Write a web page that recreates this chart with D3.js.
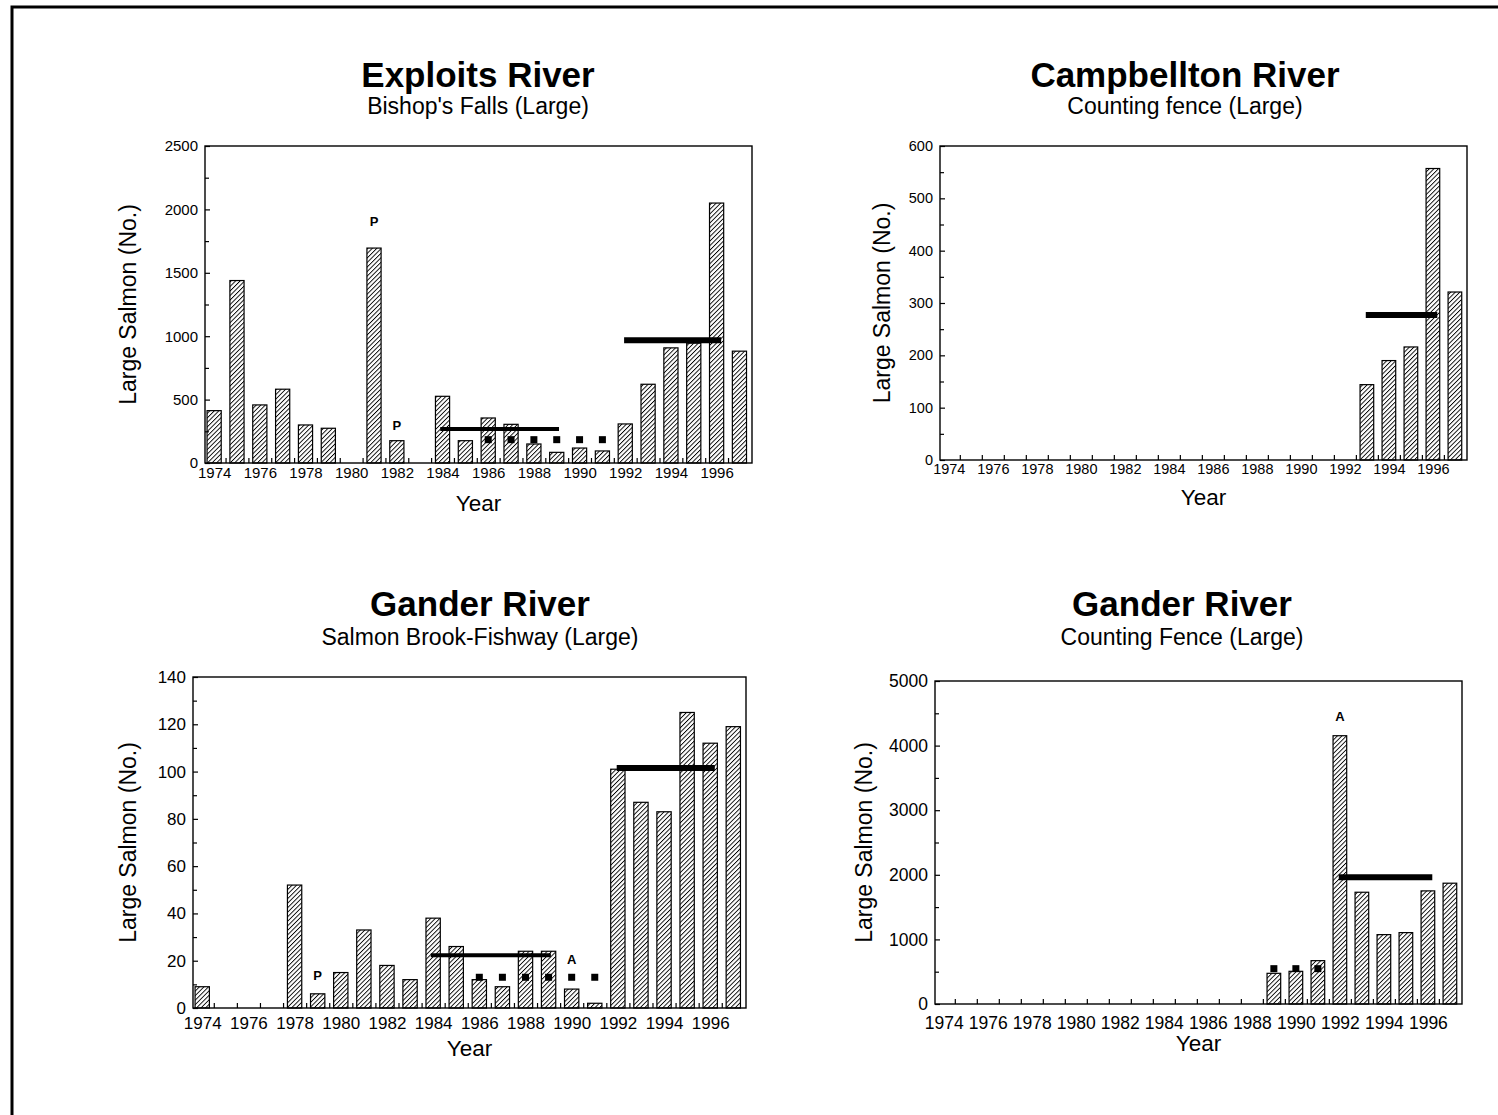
<!doctype html>
<html>
<head>
<meta charset="utf-8">
<title>Large Salmon Counts</title>
<script src="https://cdnjs.cloudflare.com/ajax/libs/d3/7.8.5/d3.min.js"></script>
<style>
  body { margin: 0; background: #fff; }
  svg { display: block; font-family: "Liberation Sans", Arial, Helvetica, sans-serif; }
</style>
</head>
<body>
<div id="chart"></div>
<script>
// years on every x axis
const years = d3.range(1974, 1998);
const yearLabels = d3.range(1974, 1997, 2);

// Exploits River - Bishop's Falls (Large)
const exploitsCounts = [413, 1439, 458, 582, 300, 274, null, 1695, 176, null, 526, 176,
  355, 305, 150, 84, 118, 95, 308, 621, 908, 945, 2050, 882];
const exploitsSolid = [[1984, 1989, 268]];
const exploitsThick = [[1992, 1996, 968]];
const exploitsDotted = [[1986, 1991, 184]];
const exploitsNotes = [[1981, 'P', 1900], [1982, 'P', 290]];

// Campbellton River - Counting fence (Large)
const campbelltonCounts = [null, null, null, null, null, null, null, null, null, null, null, null,
  null, null, null, null, null, null, null, 144, 190, 216, 557, 321];
const campbelltonThick = [[1993, 1996, 277]];

// Gander River - Salmon Brook-Fishway (Large)
const salmonBrookCounts = [9, 0, 0, 0, 52, 6, 15, 33, 18, 12, 38, 26,
  12, 9, 24, 24, 8, 2, 101, 87, 83, 125, 112, 119];
const salmonBrookSolid = [[1984, 1989, 22.3]];
const salmonBrookThick = [[1992, 1996, 101.5]];
const salmonBrookDotted = [[1986, 1991, 13]];
const salmonBrookNotes = [[1979, 'P', 13.5], [1990, 'A', 20]];

// Gander River - Counting Fence (Large)
const ganderFenceCounts = [null, null, null, null, null, null, null, null, null, null, null, null,
  null, null, null, 475, 506, 671, 4153, 1730, 1074, 1105, 1751, 1870];
const ganderFenceThick = [[1992, 1996, 1963]];
const ganderFenceDotted = [[1989, 1991, 547]];
const ganderFenceNotes = [[1992, 'A', 4430]];

const width = 1498, height = 1115;

const svg = d3.select('#chart').append('svg')
  .attr('width', width)
  .attr('height', height);

// hatch fill for the bars
const pat = svg.append('defs').append('pattern')
  .attr('id', 'hatch')
  .attr('patternUnits', 'userSpaceOnUse')
  .attr('width', 3.2)
  .attr('height', 3.2)
  .attr('patternTransform', 'rotate(45)');
pat.append('rect').attr('width', 3.2).attr('height', 3.2).attr('fill', '#fff');
pat.append('line')
  .attr('x1', 0).attr('y1', 0).attr('x2', 0).attr('y2', 3.2)
  .attr('stroke', '#000').attr('stroke-width', 1.8);

// outer frame
svg.append('rect')
  .attr('x', 12).attr('y', 7)
  .attr('width', 1600).attr('height', 1200)
  .attr('fill', 'none').attr('stroke', '#000').attr('stroke-width', 3);

const panels = [
  { title: 'Exploits River', subtitle: "Bishop's Falls (Large)",
    counts: exploitsCounts, solid: exploitsSolid, thick: exploitsThick, dotted: exploitsDotted, notes: exploitsNotes,
    yMax: 2500, yStep: 500,
    left: 205, right: 752, top: 146, bottom: 463, cx: 478, titleY: 87, subY: 114,
    yTitleX: 130, xTitleY: 511, tick: 15, xPad: 4, font: '"Liberation Sans", Arial, sans-serif' },
  { title: 'Campbellton River', subtitle: 'Counting fence (Large)',
    counts: campbelltonCounts, solid: [], thick: campbelltonThick, dotted: [], notes: [],
    yMax: 600, yStep: 100,
    left: 940, right: 1467, top: 146, bottom: 460, cx: 1185, titleY: 87, subY: 114,
    yTitleX: 884, xTitleY: 505, tick: 14.5, xPad: 4, font: '"Liberation Sans Narrow", "Arial Narrow", "Liberation Sans", sans-serif' },
  { title: 'Gander River', subtitle: 'Salmon Brook-Fishway (Large)',
    counts: salmonBrookCounts, solid: salmonBrookSolid, thick: salmonBrookThick, dotted: salmonBrookDotted, notes: salmonBrookNotes,
    yMax: 140, yStep: 20,
    left: 193, right: 746, top: 677, bottom: 1008, cx: 480, titleY: 616, subY: 645,
    yTitleX: 130, xTitleY: 1056, tick: 17, xPad: 9, font: '"Liberation Sans", Arial, sans-serif' },
  { title: 'Gander River', subtitle: 'Counting Fence (Large)',
    counts: ganderFenceCounts, solid: [], thick: ganderFenceThick, dotted: ganderFenceDotted, notes: ganderFenceNotes,
    yMax: 5000, yStep: 1000,
    left: 935, right: 1462, top: 681, bottom: 1004, cx: 1182, titleY: 616, subY: 645,
    yTitleX: 866, xTitleY: 1051, tick: 17.5, xPad: 13, font: '"Liberation Sans", Arial, sans-serif' }
];

panels.forEach(drawPanel);

function drawPanel(p) {
  const x = d3.scaleLinear().domain([1973.6, 1997.55]).range([p.left, p.right]);
  const y = d3.scaleLinear().domain([0, p.yMax]).range([p.bottom, p.top]);
  const bw = (x(1975) - x(1974)) * 0.62;
  const g = svg.append('g');

  // bars
  const rows = years.map((yr, i) => ({ yr, v: p.counts[i] })).filter(d => d.v != null && d.v > 0);
  g.selectAll('rect.bar')
    .data(rows)
    .join('rect')
    .attr('class', 'bar')
    .attr('x', d => x(d.yr) - bw / 2)
    .attr('y', d => y(d.v))
    .attr('width', bw)
    .attr('height', d => y(0) - y(d.v))
    .attr('fill', 'url(#hatch)')
    .attr('stroke', '#000')
    .attr('stroke-width', 1.2);

  // plot box
  g.append('rect')
    .attr('x', p.left).attr('y', p.top)
    .attr('width', p.right - p.left).attr('height', p.bottom - p.top)
    .attr('fill', 'none').attr('stroke', '#000').attr('stroke-width', 1.4);

  // y axis, ticks pointing inward
  g.append('g')
    .attr('transform', `translate(${p.left},0)`)
    .call(d3.axisLeft(y)
      .tickValues(d3.range(0, p.yMax + 1, p.yStep))
      .tickSize(-5)
      .tickPadding(7)
      .tickFormat(d3.format('d')));
  g.append('g')
    .attr('transform', `translate(${p.left},0)`)
    .call(d3.axisLeft(y)
      .tickValues(d3.range(p.yStep / 2, p.yMax, p.yStep))
      .tickSize(-4)
      .tickFormat(''));

  // x axis labels and inward minor ticks
  g.append('g')
    .attr('transform', `translate(0,${p.bottom})`)
    .call(d3.axisBottom(x)
      .tickValues(yearLabels)
      .tickSize(0)
      .tickPadding(p.xPad)
      .tickFormat(d3.format('d')));
  g.append('g')
    .attr('transform', `translate(0,${p.bottom})`)
    .call(d3.axisBottom(x)
      .tickValues(years.slice(0, -1).map(d => d + 0.5))
      .tickSize(-5)
      .tickFormat(''));

  g.selectAll('.domain').remove();
  g.selectAll('.tick line').attr('stroke', '#000').attr('stroke-width', 1.2);
  g.selectAll('.tick text')
    .attr('fill', '#000')
    .style('font-size', p.tick + 'px')
    .style('font-family', p.font);

  // reference lines
  g.selectAll('line.solid')
    .data(p.solid)
    .join('line')
    .attr('x1', d => x(d[0] - 0.1)).attr('x2', d => x(d[1] + 0.1))
    .attr('y1', d => y(d[2])).attr('y2', d => y(d[2]))
    .attr('stroke', '#000').attr('stroke-width', 4);

  g.selectAll('line.thick')
    .data(p.thick)
    .join('line')
    .attr('x1', d => x(d[0] - 0.05)).attr('x2', d => x(d[1] + 0.2))
    .attr('y1', d => y(d[2])).attr('y2', d => y(d[2]))
    .attr('stroke', '#000').attr('stroke-width', 6);

  const dots = [];
  p.dotted.forEach(d => d3.range(d[0], d[1] + 1).forEach(yr => dots.push([yr, d[2]])));
  g.selectAll('rect.dot')
    .data(dots)
    .join('rect')
    .attr('x', d => x(d[0]) - 3.5)
    .attr('y', d => y(d[1]) - 3.5)
    .attr('width', 7).attr('height', 7)
    .attr('fill', '#000');

  // P / A notes
  g.selectAll('text.note')
    .data(p.notes)
    .join('text')
    .attr('x', d => x(d[0]))
    .attr('y', d => y(d[2]))
    .attr('text-anchor', 'middle')
    .attr('dominant-baseline', 'middle')
    .style('font-size', '13px')
    .style('font-weight', 'bold')
    .text(d => d[1]);

  // titles
  svg.append('text')
    .attr('x', p.cx).attr('y', p.titleY)
    .attr('text-anchor', 'middle')
    .style('font-size', '35px').style('font-weight', 'bold')
    .text(p.title);
  svg.append('text')
    .attr('x', p.cx).attr('y', p.subY)
    .attr('text-anchor', 'middle')
    .style('font-size', '23px')
    .text(p.subtitle);

  // axis titles
  svg.append('text')
    .attr('transform', `translate(${p.yTitleX},${(p.top + p.bottom) / 2}) rotate(-90)`)
    .attr('text-anchor', 'middle')
    .attr('dominant-baseline', 'middle')
    .style('font-size', '23px')
    .text('Large Salmon (No.)');
  svg.append('text')
    .attr('x', (p.left + p.right) / 2).attr('y', p.xTitleY)
    .attr('text-anchor', 'middle')
    .style('font-size', '22.5px')
    .text('Year');
}
</script>
</body>
</html>
